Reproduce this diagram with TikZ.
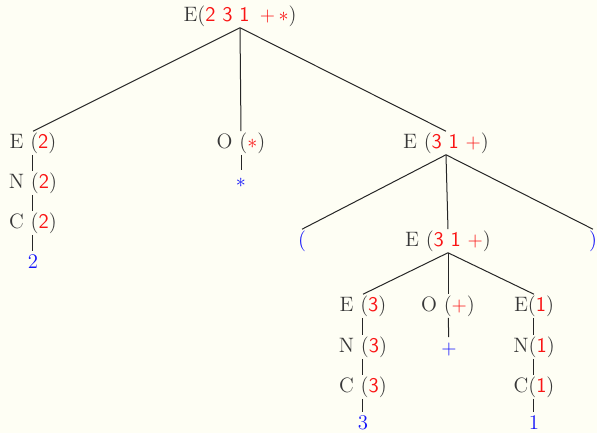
\documentclass[tikz,border=0pt]{standalone}
\usepackage{xcolor}
\definecolor{bgc}{RGB}{254,254,244}
\definecolor{txtc}{RGB}{55,55,55}
\definecolor{rdc}{RGB}{250,20,20}
\definecolor{blc}{RGB}{20,20,250}
\newcommand\redsf[1]{\textcolor{rdc}{\textsf{#1}}}
\newcommand\redm[1]{\textcolor{rdc}{$#1$}}
\begin{document}
\begin{tikzpicture}[x=0.6pt,y=-0.6pt,
  lbl/.style={font=\fontsize{12.5}{14}\selectfont, text=txtc, inner sep=3.2pt, text height=1.6ex, text depth=0.1ex},
  leaf/.style={font=\fontsize{12.5}{14}\selectfont, text=blc, inner sep=3.2pt, text height=1.6ex, text depth=0.1ex},
  edge/.style={draw=black!85, line width=0.6pt}]
\fill[bgc] (0,0) rectangle (597,433);
\useasboundingbox (0,0) rectangle (597,433);
% root
\node[lbl] (root) at (240,16) {E(\redsf{2 3 1}\enspace\redm{+\,*})};
% level 1
\node[lbl] (e1) at (33,143) {E (\redsf{2})};
\node[lbl] (n1) at (33,183) {N (\redsf{2})};
\node[lbl] (c1) at (33,223) {C (\redsf{2})};
\node[leaf] (l1) at (33,263) {2};
\node[lbl] (o1) at (241,143) {O (\redm{*})};
\node[leaf] (s1) at (241,182) {$*$};
\node[lbl] (e2) at (446,143) {E (\redsf{3 1} \redm{+})};
% level 2
\node[leaf] (lp) at (302,241) {(};
\node[lbl] (e3) at (448,241) {E (\redsf{3 1} \redm{+})};
\node[leaf] (rp) at (593,241) {)};
% level 3
\node[lbl] (e4) at (363,306) {E (\redsf{3})};
\node[lbl] (n4) at (363,347) {N (\redsf{3})};
\node[lbl] (c4) at (363,387) {C (\redsf{3})};
\node[leaf] (l4) at (363,424) {3};
\node[lbl] (o4) at (448,306) {O (\redm{+})};
\node[leaf] (s4) at (449,349) {$+$};
\node[lbl] (e5) at (534,306) {E(\redsf{1})};
\node[lbl] (n5) at (534,347) {N(\redsf{1})};
\node[lbl] (c5) at (534,387) {C(\redsf{1})};
\node[leaf] (l5) at (534,424) {1};
% edges
\draw[edge] (root.south) -- (e1.north);
\draw[edge] (root.south) -- (o1.north);
\draw[edge] (root.south) -- (e2.north);
\draw[edge] (e1) -- (n1);
\draw[edge] (n1) -- (c1);
\draw[edge] (c1) -- (l1);
\draw[edge] (o1) -- (s1);
\draw[edge] (e2.south) -- (lp.north);
\draw[edge] (e2.south) -- (e3.north);
\draw[edge] (e2.south) -- (rp.north);
\draw[edge] (e3.south) -- (e4.north);
\draw[edge] (e3.south) -- (o4.north);
\draw[edge] (e3.south) -- (e5.north);
\draw[edge] (e4) -- (n4);
\draw[edge] (n4) -- (c4);
\draw[edge] (c4) -- (l4);
\draw[edge] (o4) -- (s4);
\draw[edge] (e5) -- (n5);
\draw[edge] (n5) -- (c5);
\draw[edge] (c5) -- (l5);
\end{tikzpicture}
\end{document}
